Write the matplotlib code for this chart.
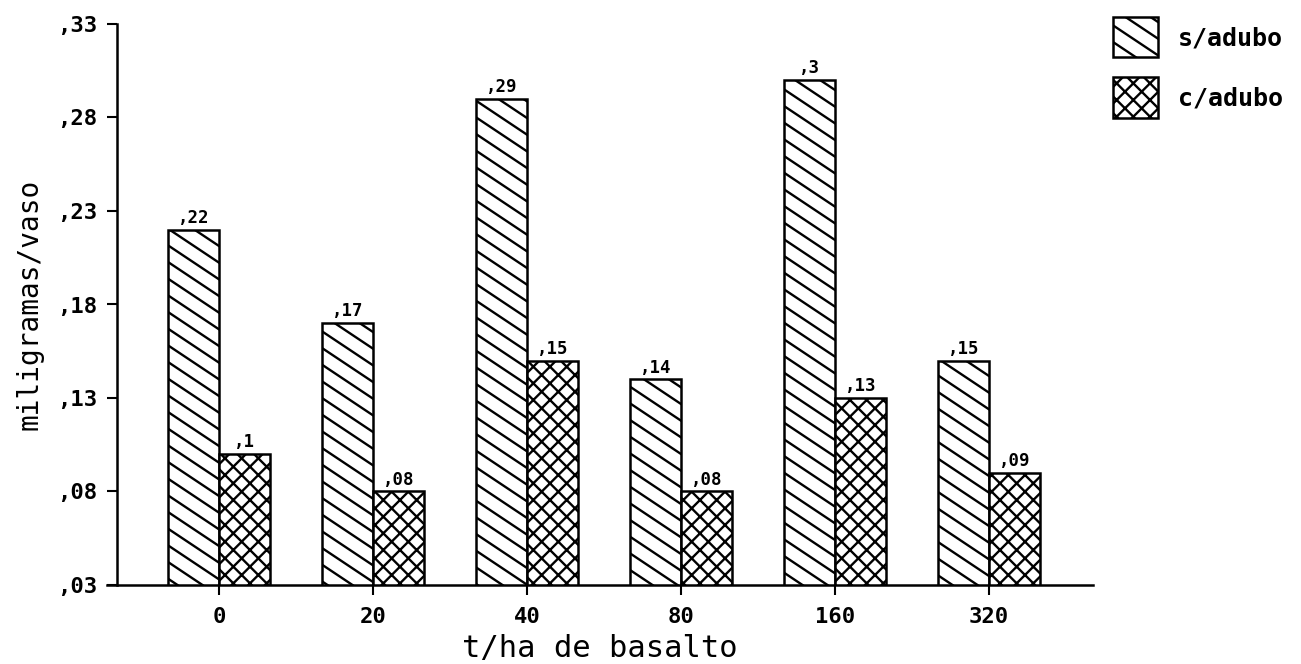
import matplotlib.pyplot as plt
import matplotlib.hatch as mhatch
from matplotlib.path import Path
import numpy as np

# dados
doses = ["0", "20", "40", "80", "160", "320"]
sem_adubo = [0.22, 0.17, 0.29, 0.14, 0.30, 0.15]
com_adubo = [0.10, 0.08, 0.15, 0.08, 0.13, 0.09]
yticks = [0.03, 0.08, 0.13, 0.18, 0.23, 0.28, 0.33]


def fmt(v):
    # estilo ",22" sem zero à esquerda
    s = f"{v:.2f}".rstrip("0")
    return s.replace("0.", ",")


# hachura "\" mais deitada (desce 4 passos por célula), como no gráfico original
class SoX(mhatch.SouthEastHatch):
    def __init__(self, hatch, density):
        super().__init__(hatch.replace('\\', ''), density)


class Deitada(mhatch.HatchPatternBase):
    queda = 4

    def __init__(self, hatch, density):
        self.num_lines = int(hatch.count('\\') * density)
        n = self.num_lines + self.queda + 1 if self.num_lines else 0
        self.num_vertices = 2 * n

    def set_vertices_and_codes(self, vertices, codes):
        c = np.arange(len(vertices) // 2) / self.num_lines
        vertices[0::2, 0] = 0.0
        vertices[0::2, 1] = c
        vertices[1::2, 0] = 1.0
        vertices[1::2, 1] = c - self.queda / self.num_lines
        codes[0::2] = Path.MOVETO
        codes[1::2] = Path.LINETO


i = mhatch._hatch_types.index(mhatch.SouthEastHatch)
mhatch._hatch_types[i] = SoX
mhatch._hatch_types.append(Deitada)

plt.rcParams['font.family'] = ['DejaVu Sans Mono', 'DejaVu Sans']
plt.rcParams['font.weight'] = 'bold'
plt.rcParams['hatch.linewidth'] = 1.7

fig = plt.figure(figsize=(13.01, 6.64), dpi=100)
ax = fig.add_axes([107 / 1301, 1 - 585 / 664, (1093 - 107) / 1301, (585 - 24) / 664])

x = np.arange(len(doses))
w = 0.33
b1 = ax.bar(x - w / 2, sem_adubo, w, color='white', edgecolor='black',
            linewidth=1.8, hatch='\\', label='s/adubo')
b2 = ax.bar(x + w / 2, com_adubo, w, color='white', edgecolor='black',
            linewidth=1.8, hatch='xx', label='c/adubo')

for bars, vals in ((b1, sem_adubo), (b2, com_adubo)):
    for bar, v in zip(bars, vals):
        ax.annotate(fmt(v), xy=(bar.get_x() + bar.get_width() / 2, v),
                    xytext=(0, 2), textcoords="offset points",
                    ha='center', va='bottom', fontsize=12.5)

ax.set_xlim(-0.727, 5.675)
ax.set_ylim(0.03, 0.33)

for s in ('top', 'right'):
    ax.spines[s].set_visible(False)
ax.spines['left'].set_position(('outward', -7.2))
ax.spines['left'].set_linewidth(1.8)
ax.spines['bottom'].set_linewidth(1.8)

ax.set_yticks(yticks)
ax.set_yticklabels([fmt(v) for v in yticks])
ax.set_xticks(x)
ax.set_xticklabels(doses)
ax.tick_params(axis='y', length=7, width=1.5, pad=7, labelsize=16)
ax.tick_params(axis='x', length=7, width=1.5, pad=9, labelsize=16)

ax.set_xlabel('t/ha de basalto', fontsize=22, labelpad=5, fontweight='normal')
ax.set_ylabel('miligramas/vaso', fontsize=20, labelpad=10, fontweight='normal')

fig.legend(loc='upper left', bbox_to_anchor=(1093 / 1301, 1 + 3 / 664),
           frameon=False, fontsize=18, handlelength=1.8, handleheight=2.1,
           labelspacing=0.8, handletextpad=0.8, borderpad=0.3)

fig.savefig('out.png', dpi=100)
